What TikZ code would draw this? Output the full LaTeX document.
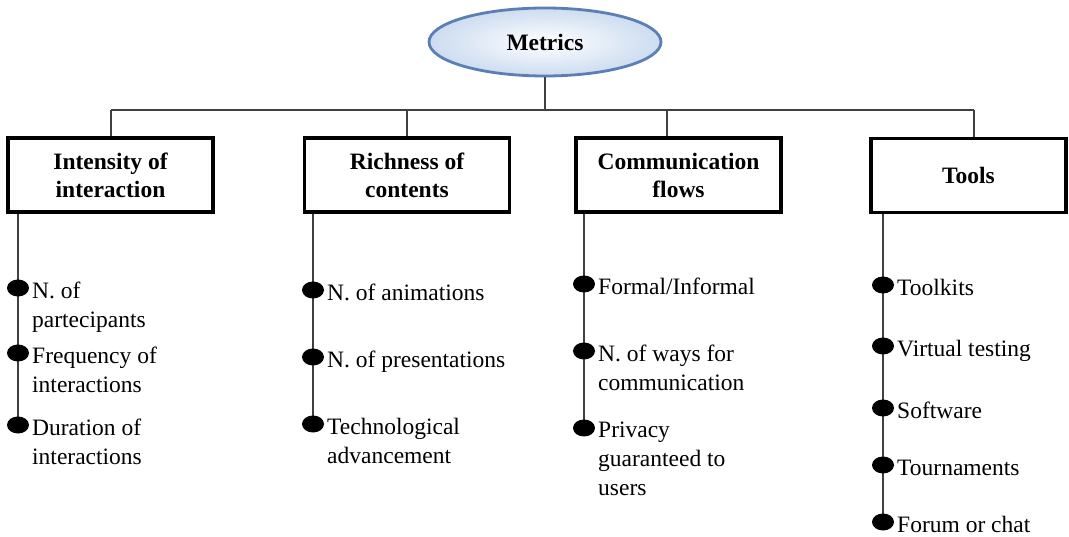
\documentclass[tikz,border=0pt]{standalone}
\usepackage{fontspec}
\setmainfont{Liberation Serif}
\usetikzlibrary{shapes.geometric,backgrounds}
\definecolor{ellblue}{HTML}{5B7FB5}
\definecolor{ellfill}{HTML}{CCDCF0}
\begin{document}
\begin{tikzpicture}[x=1pt,y=-1pt,
  link/.style={draw=black!75, line width=2.2pt},
  headbox/.style={draw=black, line width=3.4pt, fill=white, minimum width=205pt,
    minimum height=74pt, align=center, inner sep=0pt,
    font=\bfseries\fontsize{23.5}{28}\selectfont},
  dot/.style={ellipse, fill=black, minimum width=22pt, minimum height=17pt, inner sep=0pt},
  item/.style={anchor=north west, align=left, inner sep=0pt,
    font=\fontsize{23.5}{29}\selectfont, execute at begin node={\rule{0pt}{16.5pt}}},
]
\useasboundingbox (0,0) rectangle (1069,537);

% root
\node[ellipse, draw=ellblue, line width=2.8pt, inner color=white, outer color=ellfill,
  minimum width=232pt, minimum height=68pt, font=\bfseries\fontsize{23.5}{28}\selectfont]
  (metrics) at (545,42) {Metrics};

% category boxes
\node[headbox] (b1) at (110.5,175) {Intensity of\\interaction};
\node[headbox] (b2) at (407,175) {Richness of\\contents};
\node[headbox] (b3) at (678.5,175) {Communication\\flows};
\node[headbox, minimum width=195pt] (b4) at (968.5,175.5) {Tools};

% bus
\coordinate (busM) at (545,110);
\coordinate (bus1) at (111,110);
\coordinate (bus2) at (407,110);
\coordinate (bus3) at (667,110);
\coordinate (bus4) at (974,110);
\draw[link] (metrics.south) -- (busM);
\draw[link] (bus1) -- (bus4);
\draw[link] (bus1) -- (bus1 |- b1.north);
\draw[link] (bus2) -- (bus2 |- b2.north);
\draw[link] (bus3) -- (bus3 |- b3.north);
\draw[link] (bus4) -- (bus4 |- b4.north);

% bullets
\node[dot] (d11) at (18,288) {};
\node[dot] (d12) at (18,353) {};
\node[dot] (d13) at (18,425) {};
\node[dot] (d21) at (313,290) {};
\node[dot] (d22) at (313,357) {};
\node[dot] (d23) at (313,424) {};
\node[dot] (d31) at (584,284) {};
\node[dot] (d32) at (584,351) {};
\node[dot] (d33) at (584,428) {};
\node[dot] (d41) at (883,285) {};
\node[dot] (d42) at (883,346) {};
\node[dot] (d43) at (883,408) {};
\node[dot] (d44) at (883,465) {};
\node[dot] (d45) at (883,522) {};

% item labels
\node[item] (t11) at ([xshift=14pt,yshift=6pt]d11.center) {N. of\\partecipants};
\node[item] (t12) at ([xshift=14pt,yshift=6pt]d12.center) {Frequency of\\interactions};
\node[item] (t13) at ([xshift=14pt,yshift=6pt]d13.center) {Duration of\\interactions};
\node[item] (t21) at ([xshift=14pt,yshift=6pt]d21.center) {N. of animations};
\node[item] (t22) at ([xshift=14pt,yshift=6pt]d22.center) {N. of presentations};
\node[item] (t23) at ([xshift=14pt,yshift=6pt]d23.center) {Technological\\advancement};
\node[item] (t31) at ([xshift=14pt,yshift=6pt]d31.center) {Formal/Informal};
\node[item] (t32) at ([xshift=14pt,yshift=6pt]d32.center) {N. of ways for\\communication};
\node[item] (t33) at ([xshift=14pt,yshift=6pt]d33.center) {Privacy\\guaranteed to\\users};
\node[item] (t41) at ([xshift=14pt,yshift=6pt]d41.center) {Toolkits};
\node[item] (t42) at ([xshift=14pt,yshift=6pt]d42.center) {Virtual testing};
\node[item] (t43) at ([xshift=14pt,yshift=6pt]d43.center) {Software};
\node[item] (t44) at ([xshift=14pt,yshift=6pt]d44.center) {Tournaments};
\node[item] (t45) at ([xshift=14pt,yshift=6pt]d45.center) {Forum or chat};

% column spines behind the bullets
\begin{scope}[on background layer]
\draw[link] (b1.south -| d11) -- (d13.center);
\draw[link] (b2.south -| d21) -- (d23.center);
\draw[link] (b3.south -| d31) -- (d33.center);
\draw[link] (b4.south -| d41) -- (d45.center);
\end{scope}
\end{tikzpicture}
\end{document}
